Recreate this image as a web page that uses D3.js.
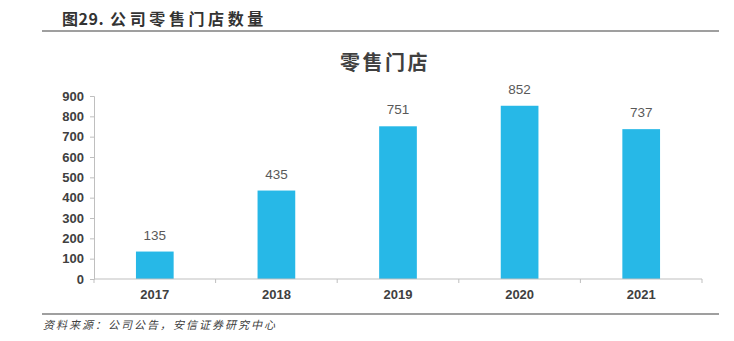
<!DOCTYPE html>
<html><head><meta charset="utf-8">
<script src="https://cdn.jsdelivr.net/npm/d3@7"></script>
<style>
html,body{margin:0;padding:0;background:#fff;}
svg{display:block;}
</style></head>
<body>
<svg id="c" width="734" height="341"></svg>
<script>
const categories = ["2017","2018","2019","2020","2021"];
const values = [135, 435, 751, 852, 737];
const yTicks = [0,100,200,300,400,500,600,700,800,900];
const headerNum = "图29.";
const headerText = "公司零售门店数量";
const chartTitle = "零售门店";
const sourceText = "资料来源：公司公告，安信证券研究中心";

const svg = d3.select("#c");
const cjk = "'Noto Sans CJK SC','Noto Sans',sans-serif";
const latin = "'Liberation Sans',Arial,sans-serif";

// header
const ht = svg.append("text").attr("x", 62).attr("y", 25)
  .attr("font-family", cjk).attr("font-weight", "bold").attr("font-size", 16)
  .attr("fill", "#333");
ht.append("tspan").attr("letter-spacing", 0.5).text(headerNum);
ht.append("tspan").attr("dx", 6).attr("letter-spacing", 3.6).text(headerText);
svg.append("line").attr("x1", 42).attr("x2", 719).attr("y1", 31).attr("y2", 31)
  .attr("stroke", "#7f7f7f").attr("stroke-width", 1.5);

// title
svg.append("text").attr("x", 385).attr("y", 70).attr("text-anchor", "middle")
  .attr("font-family", cjk).attr("font-weight", "bold").attr("font-size", 20)
  .attr("letter-spacing", 2.5)
  .attr("fill", "#404040").text(chartTitle);

const x = d3.scaleBand().domain(categories).range([94, 702]).paddingInner(0.69).paddingOuter(0.345);
const y = d3.scaleLinear().domain([0, 900]).range([279, 96]);

// bars
svg.append("g").selectAll("rect").data(values).join("rect")
  .attr("x", (d,i) => x(categories[i]))
  .attr("width", x.bandwidth())
  .attr("y", d => y(d))
  .attr("height", d => y(0) - y(d))
  .attr("fill", "#27B8E7");

// value labels
svg.append("g").selectAll("text").data(values).join("text")
  .attr("x", (d,i) => x(categories[i]) + x.bandwidth()/2)
  .attr("y", d => y(d) - 12)
  .attr("text-anchor", "middle")
  .attr("font-family", latin).attr("font-size", 13.5)
  .attr("fill", "#595959").text(d => d);

// y axis
const yAxis = d3.axisLeft(y).tickValues(yTicks).tickSize(4).tickPadding(6);
const gy = svg.append("g").attr("transform", "translate(94,0)").call(yAxis);
gy.selectAll("path,line").attr("stroke", "#bfbfbf");
gy.selectAll("text").attr("font-family", latin).attr("font-weight", "bold")
  .attr("font-size", 13).attr("fill", "#404040");

// x axis
const xAxis = d3.axisBottom(x).tickSize(0).tickPadding(11);
const gx = svg.append("g").attr("transform", "translate(0,279)").call(xAxis);
gx.select("path").attr("stroke", "#bfbfbf").attr("d", "M94,0H702");
gx.selectAll("text").attr("font-family", latin).attr("font-weight", "bold")
  .attr("font-size", 13).attr("fill", "#404040");
// boundary ticks
const bounds = d3.range(categories.length + 1).map(i => 94 + i * (608 / categories.length));
gx.selectAll("line.bt").data(bounds).join("line").attr("class", "bt")
  .attr("x1", d => d).attr("x2", d => d).attr("y1", 0).attr("y2", 4)
  .attr("stroke", "#bfbfbf");

// footer
svg.append("line").attr("x1", 42).attr("x2", 719).attr("y1", 314).attr("y2", 314)
  .attr("stroke", "#7f7f7f").attr("stroke-width", 1.5);
svg.append("text").attr("x", 43).attr("y", 329)
  .attr("font-family", cjk).attr("font-style", "italic").attr("font-size", 11)
  .attr("letter-spacing", 2)
  .attr("fill", "#404040").text(sourceText);
</script>
</body></html>
